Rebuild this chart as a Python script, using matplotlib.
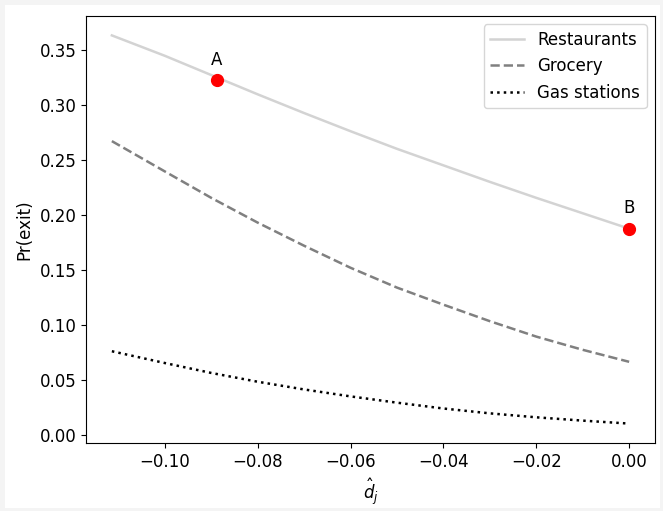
import numpy as np
import matplotlib
matplotlib.use("Agg")
import matplotlib.pyplot as plt
from matplotlib.patches import Rectangle

plt.rcParams["font.size"] = 12

# values
d_hat = [-0.1114, -0.10, -0.09, -0.08, -0.07, -0.06, -0.05, -0.04, -0.03, -0.02, -0.01, 0.0]
restaurants = [0.363, 0.3445, 0.327, 0.3095, 0.2925, 0.276, 0.260, 0.245, 0.230, 0.2155, 0.2015, 0.1875]
grocery = [0.267, 0.2395, 0.2155, 0.193, 0.172, 0.152, 0.134, 0.1185, 0.1035, 0.0895, 0.0775, 0.0666]
gas_stations = [0.0762, 0.0655, 0.0565, 0.0485, 0.0415, 0.0352, 0.0295, 0.0242, 0.0198, 0.0162, 0.0132, 0.0105]

points_x = [-0.0888, 0.0]
points_y = [0.3228, 0.1876]
point_labels = ["A", "B"]

fig = plt.figure(figsize=(6.63, 5.11), dpi=100, facecolor="#f4f4f4")
# white page inside a thin grey frame
fig.patches.append(Rectangle((5 / 663, 3 / 511), 655 / 663, 503 / 511,
                             transform=fig.transFigure, facecolor="white",
                             edgecolor="none", zorder=-10))
ax = fig.add_axes([86 / 663, 68 / 511, 569 / 663, 427 / 511])

ax.plot(d_hat, restaurants, color="lightgrey", linestyle="-", lw=1.8, label="Restaurants")
ax.plot(d_hat, grocery, color="grey", linestyle="--", lw=1.8, label="Grocery")
ax.plot(d_hat, gas_stations, color="black", linestyle=":", lw=1.8, label="Gas stations")

ax.plot(points_x, points_y, "o", color="red", markersize=8.5, zorder=3)
for px, py, lab in zip(points_x, points_y, point_labels):
    ax.annotate(lab, (px, py), xytext=(0, 8), textcoords="offset points",
                ha="center", va="bottom")

ax.set_xlabel(r"$\hat{d}_j$")
ax.set_ylabel("Pr(exit)")
ax.set_xticks([-0.10, -0.08, -0.06, -0.04, -0.02, 0.00])
ax.set_yticks(np.arange(0, 0.36, 0.05))
ax.legend(loc="upper right")

fig.savefig("out.png", dpi=100, facecolor=fig.get_facecolor())
